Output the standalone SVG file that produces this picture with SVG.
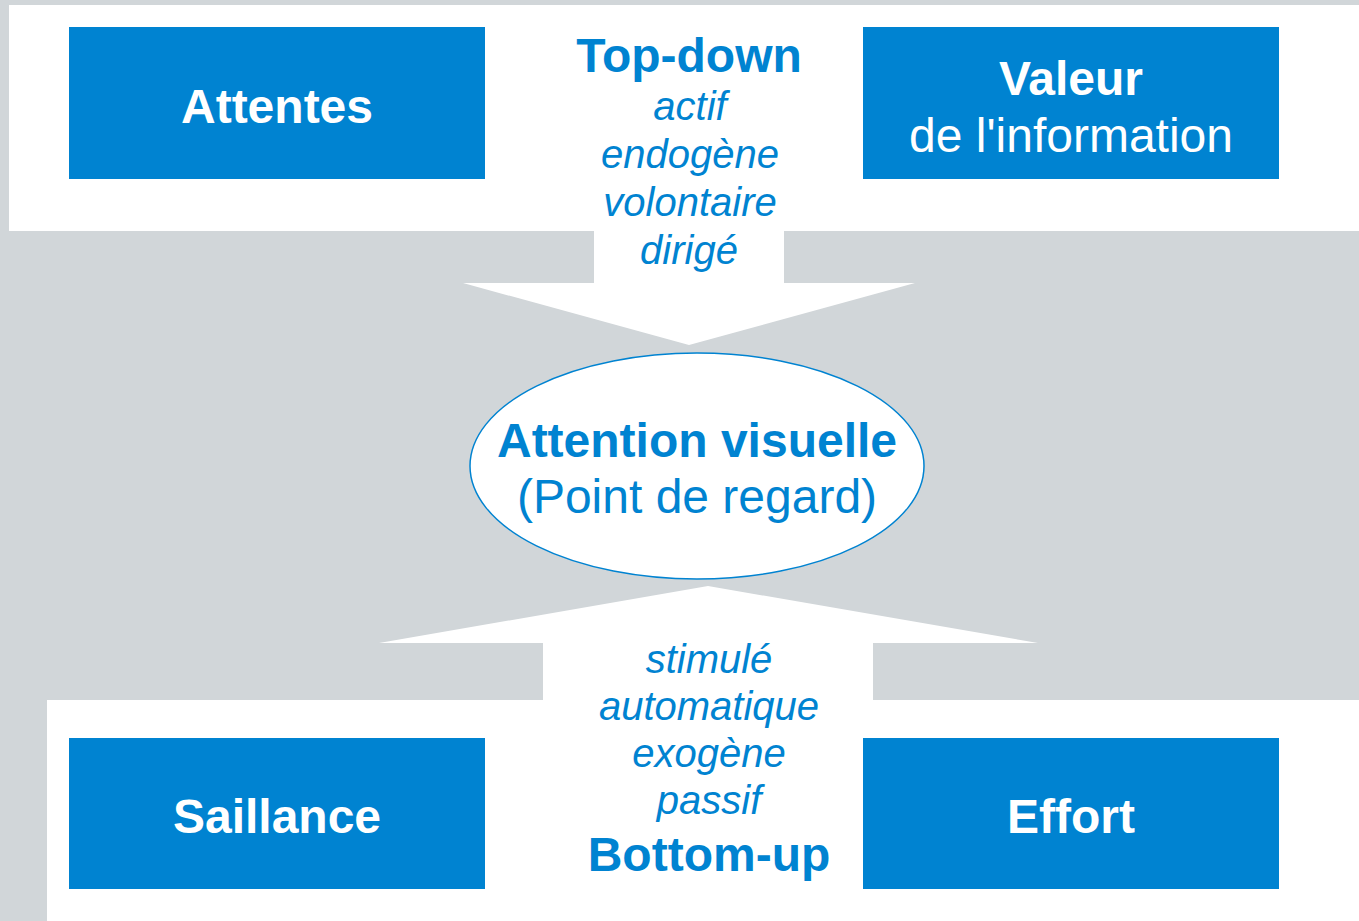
<svg xmlns="http://www.w3.org/2000/svg" width="1359" height="921" viewBox="0 0 1359 921">
  <style>
    .panel { fill: #ffffff; }
    .box { fill: #0083d1; }
    .boxtxt { font-family: "Liberation Sans", Arial, sans-serif; fill: #ffffff; text-anchor: middle; font-size: 48px; }
    .b { font-weight: bold; }
    .blue { font-family: "Liberation Sans", Arial, sans-serif; fill: #0083d1; text-anchor: middle; }
    .it { font-style: italic; font-size: 40px; }
    .head { font-weight: bold; font-size: 48px; }
    .arrow { fill: #ffffff; }
  </style>
  <rect width="1359" height="921" fill="#d1d6d9"/>
  <rect class="panel" x="9" y="5" width="1350" height="226"/>
  <rect class="panel" x="47" y="700" width="1312" height="221"/>

  <g id="connectors">
    <polygon class="arrow" points="594,230 784,230 784,283 915,283 689,345 463,283 594,283"/>
    <polygon class="arrow" points="708,586 1038,643 873,643 873,701 543,701 543,643 379,643"/>
  </g>

  <g id="topdown-label">
    <text class="blue head" x="689" y="72">Top-down</text>
    <text class="blue it" x="690" y="120">actif</text>
    <text class="blue it" x="690" y="168">endogène</text>
    <text class="blue it" x="690" y="216">volontaire</text>
    <text class="blue it" x="689" y="264">dirigé</text>
  </g>

  <g id="bottomup-label">
    <text class="blue it" x="709" y="673">stimulé</text>
    <text class="blue it" x="709" y="720">automatique</text>
    <text class="blue it" x="709" y="767">exogène</text>
    <text class="blue it" x="709" y="814">passif</text>
    <text class="blue head" x="709" y="871">Bottom-up</text>
  </g>

  <g id="attentes">
    <rect class="box" x="69" y="27" width="416" height="152"/>
    <text class="boxtxt b" x="277" y="123">Attentes</text>
  </g>

  <g id="valeur">
    <rect class="box" x="863" y="27" width="416" height="152"/>
    <text class="boxtxt b" x="1071" y="95">Valeur</text>
    <text class="boxtxt" x="1071" y="152">de l'information</text>
  </g>

  <g id="attention">
    <ellipse cx="697" cy="466" rx="227" ry="113" fill="#ffffff" stroke="#0083d1" stroke-width="1.5"/>
    <text class="blue" x="697" y="457" font-size="48" font-weight="bold">Attention visuelle</text>
    <text class="blue" x="697" y="513" font-size="48">(Point de regard)</text>
  </g>

  <g id="saillance">
    <rect class="box" x="69" y="738" width="416" height="151"/>
    <text class="boxtxt b" x="277" y="833">Saillance</text>
  </g>

  <g id="effort">
    <rect class="box" x="863" y="738" width="416" height="151"/>
    <text class="boxtxt b" x="1071" y="833">Effort</text>
  </g>
</svg>
